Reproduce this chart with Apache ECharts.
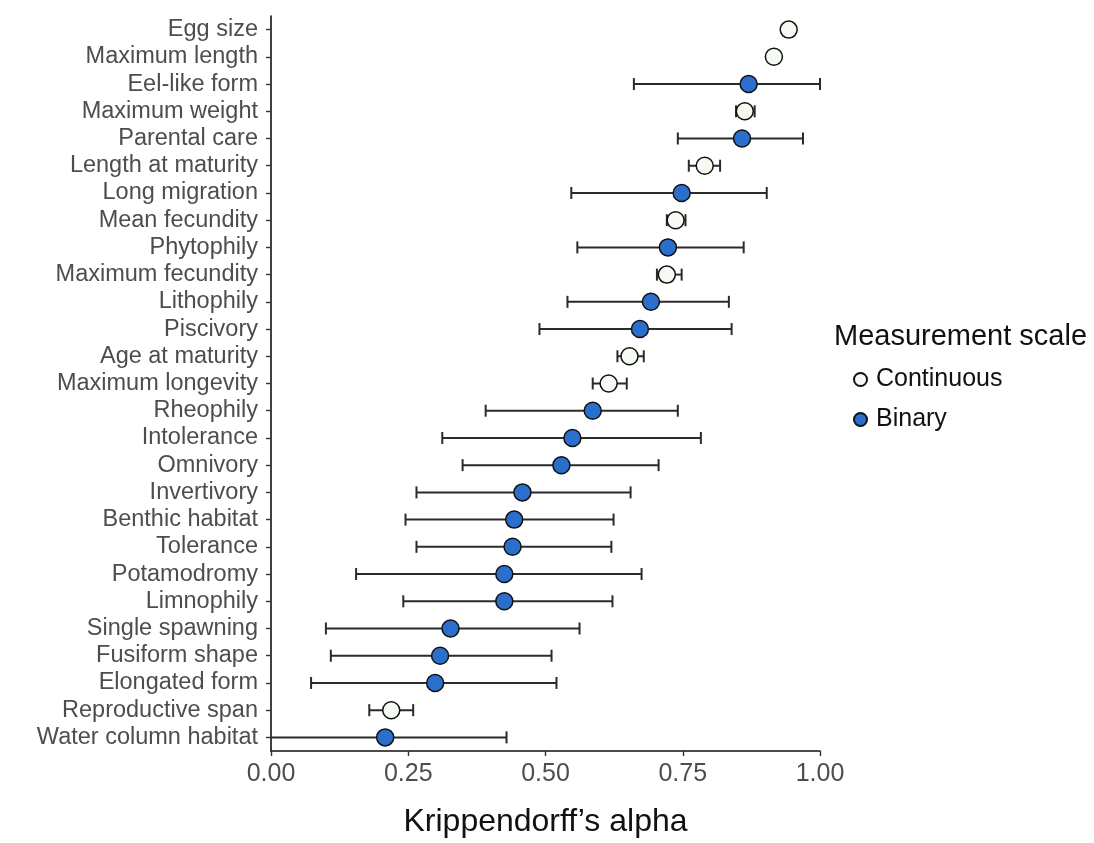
<!DOCTYPE html>
<html>
<head>
<meta charset="utf-8">
<script src="https://cdn.jsdelivr.net/npm/echarts@6/dist/echarts.min.js"></script>
<style>
  html, body { margin: 0; padding: 0; background: #ffffff; }
  #chart { width: 1094px; height: 843px; }
</style>
</head>
<body>
<div id="chart"></div>
<script>
// Traits, listed top to bottom
const traits = [
  'Egg size', 'Maximum length', 'Eel-like form', 'Maximum weight', 'Parental care',
  'Length at maturity', 'Long migration', 'Mean fecundity', 'Phytophily',
  'Maximum fecundity', 'Lithophily', 'Piscivory', 'Age at maturity',
  'Maximum longevity', 'Rheophily', 'Intolerance', 'Omnivory', 'Invertivory',
  'Benthic habitat', 'Tolerance', 'Potamodromy', 'Limnophily', 'Single spawning',
  'Fusiform shape', 'Elongated form', 'Reproductive span', 'Water column habitat'
];

// Measurement scale of each trait
const scaleOf = [
  'Continuous', 'Continuous', 'Binary', 'Continuous', 'Binary',
  'Continuous', 'Binary', 'Continuous', 'Binary',
  'Continuous', 'Binary', 'Binary', 'Continuous',
  'Continuous', 'Binary', 'Binary', 'Binary', 'Binary',
  'Binary', 'Binary', 'Binary', 'Binary', 'Binary',
  'Binary', 'Binary', 'Continuous', 'Binary'
];

// Krippendorff's alpha estimates
const alpha = [
  0.943, 0.916, 0.870, 0.863, 0.858,
  0.790, 0.748, 0.737, 0.723,
  0.721, 0.692, 0.672, 0.653,
  0.615, 0.586, 0.549, 0.529, 0.458,
  0.443, 0.440, 0.425, 0.425, 0.327,
  0.308, 0.299, 0.219, 0.208
];

// Confidence interval bounds (null where the interval is hidden by the point)
const ciLow = [
  null, null, 0.661, 0.847, 0.741,
  0.761, 0.547, 0.721, 0.558,
  0.703, 0.540, 0.489, 0.631,
  0.586, 0.391, 0.312, 0.349, 0.265,
  0.245, 0.265, 0.155, 0.241, 0.100,
  0.109, 0.073, 0.179, -0.020
];
const ciHigh = [
  null, null, 1.000, 0.881, 0.969,
  0.818, 0.903, 0.755, 0.861,
  0.748, 0.834, 0.839, 0.679,
  0.648, 0.741, 0.783, 0.706, 0.655,
  0.624, 0.620, 0.675, 0.622, 0.562,
  0.511, 0.520, 0.259, 0.429
];

const scaleNames = ['Continuous', 'Binary'];
const scaleColors = ['#f5faf2', '#2a6fcc'];

const xMin = 0, xMax = 1, xStep = 0.25;

const FONT = '"Liberation Sans", Arial, Helvetica, sans-serif';

const intervalData = [];
traits.forEach((t, i) => {
  if (ciLow[i] !== null && ciHigh[i] !== null) intervalData.push([i, ciLow[i], ciHigh[i]]);
});

// Horizontal interval with end caps, clipped to the plotting area
function renderInterval(params, api) {
  const idx = api.value(0);
  const a = api.coord([api.value(1), idx]);
  const b = api.coord([api.value(2), idx]);
  const cs = params.coordSys;
  const left = Math.max(a[0], cs.x);
  const right = Math.min(b[0], cs.x + cs.width);
  const y = a[1];
  const cap = 6;
  const style = { stroke: '#2b2b2b', lineWidth: 2 };
  const children = [{ type: 'line', shape: { x1: left, y1: y, x2: right, y2: y }, style }];
  if (a[0] >= cs.x - 0.5) {
    children.push({ type: 'line', shape: { x1: a[0], y1: y - cap, x2: a[0], y2: y + cap }, style });
  }
  if (b[0] <= cs.x + cs.width + 0.5) {
    children.push({ type: 'line', shape: { x1: b[0], y1: y - cap, x2: b[0], y2: y + cap }, style });
  }
  return { type: 'group', children };
}

const pointSeries = scaleNames.map((name, k) => ({
  name,
  type: 'scatter',
  z: 3,
  symbol: 'circle',
  symbolSize: 17,
  itemStyle: { color: scaleColors[k], borderColor: '#111111', borderWidth: 1.5, opacity: 1 },
  data: traits.map((t, i) => scaleOf[i] === name ? [alpha[i], t] : null).filter(d => d)
}));

const chart = echarts.init(document.getElementById('chart'), null, { renderer: 'canvas' });
chart.setOption({
  animation: false,
  backgroundColor: '#ffffff',
  textStyle: { fontFamily: FONT },
  title: {
    text: 'Measurement scale',
    left: 829, top: 317,
    textStyle: { fontFamily: FONT, fontSize: 29, fontWeight: 'normal', color: '#111111' }
  },
  legend: {
    data: scaleNames,
    orient: 'vertical',
    left: 848, top: 362,
    icon: 'circle',
    itemWidth: 13, itemHeight: 13,
    itemGap: 15,
    textStyle: { fontFamily: FONT, fontSize: 25, color: '#111111', padding: [0, 0, 0, 4] }
  },
  grid: { left: 271, top: 16, width: 549, height: 741, containLabel: false },
  xAxis: {
    type: 'value',
    min: xMin, max: xMax, interval: xStep,
    name: 'Krippendorff\u2019s alpha',
    nameLocation: 'middle',
    nameGap: 55,
    nameTextStyle: { fontFamily: FONT, fontSize: 32, color: '#111111', verticalAlign: 'top' },
    axisLine: { show: true, lineStyle: { color: '#111111', width: 1.6 } },
    axisTick: { show: true, length: 5, lineStyle: { color: '#333333', width: 1.4 } },
    axisLabel: {
      fontFamily: FONT, fontSize: 25, color: '#4d4d4d', margin: 11,
      formatter: v => v.toFixed(2)
    },
    splitLine: { show: false }
  },
  yAxis: {
    type: 'category',
    data: traits,
    inverse: true,
    axisLine: { show: true, onZero: false, lineStyle: { color: '#111111', width: 1.6 } },
    axisTick: { show: true, alignWithLabel: true, interval: 0, length: 5, lineStyle: { color: '#333333', width: 1.4 } },
    axisLabel: { fontFamily: FONT, fontSize: 23.5, color: '#4d4d4d', margin: 13, interval: 0 },
    splitLine: { show: false }
  },
  series: [
    {
      name: 'interval',
      type: 'custom',
      z: 2,
      renderItem: renderInterval,
      encode: { x: [1, 2], y: 0 },
      data: intervalData,
      silent: true
    },
    ...pointSeries
  ]
});
</script>
</body>
</html>
